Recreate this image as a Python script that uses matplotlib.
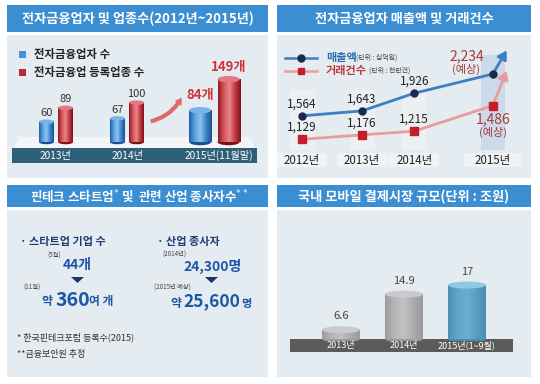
import numpy as np
import matplotlib
matplotlib.use("Agg")
import matplotlib.pyplot as plt
from matplotlib.patches import Rectangle, Ellipse, Polygon, FancyArrowPatch
from matplotlib.colors import LinearSegmentedColormap

plt.rcParams['font.family'] = ['Noto Sans CJK KR', 'DejaVu Sans']

# ---------------- data ----------------
p1_years = ["2013년", "2014년", "2015년(11월말)"]
p1_companies = [60, 67, 84]          # 전자금융업자 수
p1_registered = [89, 100, 149]       # 전자금융업 등록업종 수

p2_years = ["2012년", "2013년", "2014년", "2015년"]
p2_sales = [1564, 1643, 1926, 2234]          # 매출액 (십억원)
p2_transactions = [1129, 1176, 1215, 1486]   # 거래건수 (천만건)
p2_sales_labels = ["1,564", "1,643", "1,926", "2,234"]
p2_trans_labels = ["1,129", "1,176", "1,215", "1,486"]

p3_startups = ["44", "360"]
p3_workers = ["24,300", "25,600"]

p4_years = ["2013년", "2014년", "2015년(1~9월)"]
p4_market = [6.6, 14.9, 17]
p4_labels = ["6.6", "14.9", "17"]

# ---------------- figure helpers ----------------
W, H = 540, 384
fig = plt.figure(figsize=(W / 100, H / 100), dpi=100)
fig.patch.set_facecolor("white")

TITLE_BLUE = "#3b8ed2"
PANEL_BG = "#e4ebf1"


def fx(x):
    return x / W


def fy(y):
    return 1 - y / H


def frect(x0, y0, x1, y1, zorder=-2, **kw):
    r = Rectangle((fx(x0), fy(y1)), (x1 - x0) / W, (y1 - y0) / H,
                  transform=fig.transFigure, zorder=zorder, **kw)
    fig.patches.append(r)
    return r


def ftext(x, y, s, **kw):
    kw.setdefault("ha", "center")
    kw.setdefault("va", "center")
    kw.setdefault("zorder", 5)
    return fig.text(fx(x), fy(y), s, **kw)


def px_axes(x0, y0, x1, y1):
    ax = fig.add_axes([fx(x0), fy(y1), (x1 - x0) / W, (y1 - y0) / H])
    ax.set_axis_off()
    ax.patch.set_alpha(0)
    ax.set_zorder(1)
    return ax


def cylinder(ax, x, w, bottom, top, colors, top_color, ell_h, z=3):
    cmap = LinearSegmentedColormap.from_list("c", colors)
    grad = np.linspace(0, 1, 64)[None, :]
    ax.imshow(grad, extent=(x - w / 2, x + w / 2, bottom, top), cmap=cmap,
              aspect="auto", zorder=z, interpolation="bilinear")
    ax.add_patch(Ellipse((x, bottom), w, ell_h, facecolor=colors[-1],
                         edgecolor="none", zorder=z - 0.5))
    ax.add_patch(Ellipse((x, top), w, ell_h, facecolor=top_color,
                         edgecolor="none", zorder=z + 0.5))


# ---------------- panel frames ----------------
panels = [
    (7, 268, 5, 32, 178, "전자금융업자 및 업종수(2012년~2015년)"),
    (277, 531, 5, 32, 178, "전자금융업자 매출액 및 거래건수"),
    (7, 268, 185, 207, 377, None),
    (277, 531, 185, 207, 377, "국내 모바일 결제시장 규모(단위 : 조원)"),
]
for x0, x1, t0, t1, b1, title in panels:
    frect(x0, t0, x1, t1, facecolor=TITLE_BLUE, edgecolor="none")
    frect(x0, t1 + 3, x1, b1, facecolor=PANEL_BG, edgecolor="none")
    if title:
        ftext((x0 + x1) / 2, (t0 + t1) / 2 + 0.5, title, color="white",
              fontsize=9.5, fontweight="bold")

# panel 3 title with superscripts
ftext(139, 196.5, "핀테크 스타트업$^{*}$ 및  관련 산업 종사자수$^{**}$",
      color="white", fontsize=9, fontweight="bold")

# ================= Panel 1 =================
plat = Polygon([(fx(14), fy(148)), (fx(255), fy(148)), (fx(250), fy(137)), (fx(19), fy(137))],
               closed=True, transform=fig.transFigure, facecolor="#f4f5f6", edgecolor="none",
               zorder=-1)
fig.patches.append(plat)
frect(12, 148, 257, 163, facecolor="#2e6079", edgecolor="none", zorder=-1)

A1 = 0.477           # px per unit
base1 = 17.4         # value at baseline
ax1 = px_axes(12, 50, 257, 146)
gx1 = [0, 1, 2.23]
offs = [0.135, 0.135, 0.2]
wid = [0.21, 0.21, 0.31]
blue_cols = ["#1f5ea6", "#5aa2e0", "#8cc4f0", "#3d84cc", "#1d4f8f"]
red_cols = ["#8e1a22", "#d4545b", "#e8878b", "#c23a42", "#7c1219"]
for i in range(3):
    eh = (4.5 if i < 2 else 6.5) / A1
    cylinder(ax1, gx1[i] - offs[i], wid[i], base1, p1_companies[i], blue_cols, "#78b5e8", eh)
    cylinder(ax1, gx1[i] + offs[i], wid[i], base1, p1_registered[i], red_cols, "#e07a80", eh)
    if i < 2:
        ax1.annotate(str(p1_companies[i]), (gx1[i] - offs[i], p1_companies[i]),
                     xytext=(0, 2.5), textcoords="offset points", ha="center", va="bottom",
                     fontsize=8, color="#333333")
        ax1.annotate(str(p1_registered[i]), (gx1[i] + offs[i], p1_registered[i]),
                     xytext=(0, 2.5), textcoords="offset points", ha="center", va="bottom",
                     fontsize=8, color="#333333")
    else:
        ax1.annotate(f"{p1_companies[i]}개", (gx1[i] - offs[i], p1_companies[i]),
                     xytext=(0, 6), textcoords="offset points", ha="center", va="bottom",
                     fontsize=9.5, color="#d1333b", fontweight="bold")
        ax1.annotate(f"{p1_registered[i]}개", (gx1[i] + offs[i], p1_registered[i]),
                     xytext=(0, 4), textcoords="offset points", ha="center", va="bottom",
                     fontsize=9.5, color="#d1333b", fontweight="bold")
ax1.set_xlim(-0.62, 2.83)
ax1.set_ylim(base1 - 4 / A1, base1 + 92 / A1)
# curved arrow
arr = FancyArrowPatch((fx(148), fy(122)), (fx(183), fy(95)), transform=fig.transFigure,
                      connectionstyle="arc3,rad=0.25",
                      arrowstyle="simple,head_width=6,tail_width=3,head_length=5",
                      color="#de6a66", lw=0, zorder=5)
fig.patches.append(arr)
for i, lab in enumerate(p1_years):
    cx = [55, 128, 219][i]
    ftext(cx, 155.5, lab, color="white", fontsize=7.3)
# legend
frect(19, 51, 26, 58, facecolor="#4a90d9", edgecolor="none", zorder=2)
frect(19, 69, 26, 76, facecolor="#c1272d", edgecolor="none", zorder=2)
ftext(34, 54.5, "전자금융업자 수", ha="left", fontsize=8.2, color="#222222", fontweight="bold")
ftext(34, 72.5, "전자금융업 등록업종 수", ha="left", fontsize=8.2, color="#222222", fontweight="bold")

# ================= Panel 2 =================
ax2 = px_axes(283, 40, 523, 150)
ax2b = px_axes(283, 40, 523, 150)
gx2 = [0, 1, 1.87, 3.18]
xl2 = ((283 - 302) / 60, (523 - 302) / 60)
for i in range(3):
    frect(302 + gx2[i] * 60 - 12.5, 90, 302 + gx2[i] * 60 + 12.5, 150,
          facecolor="#edf0f2", edgecolor="none", zorder=-1)
frect(302 + gx2[3] * 60 - 12, 55, 302 + gx2[3] * 60 + 12, 150,
      facecolor="#cbd9e8", edgecolor="none", zorder=-1)
for i, lab in enumerate(p2_years):
    cx = 302 + gx2[i] * 60
    hw = 25 if i < 3 else 29
    frect(cx - hw, 153, cx + hw, 167, facecolor="#f1f2f3", edgecolor="none", zorder=-1)
    ftext(cx, 160, lab, fontsize=8.3, color="#222222")

ax2.plot(gx2, p2_sales, color="#3d7fc4", lw=2, zorder=3)
ax2.plot(gx2, p2_sales, "o", color="#1a2a4a", ms=5, zorder=4)
ax2b.plot(gx2, p2_transactions, color="#e99c9d", lw=2, zorder=3)
ax2b.plot(gx2, p2_transactions, "s", color="#c41e2a", ms=6, zorder=4)
ax2.annotate("", xy=(gx2[3], p2_sales[3]), xytext=(10, 17), textcoords="offset points",
             arrowprops=dict(arrowstyle="<|-,head_width=0.3,head_length=0.5", color="#3d7fc4", lw=2,
                             shrinkA=0, shrinkB=0), zorder=3)
ax2b.annotate("", xy=(gx2[3], p2_transactions[3]), xytext=(10, 25), textcoords="offset points",
              arrowprops=dict(arrowstyle="<|-,head_width=0.3,head_length=0.5", color="#e99c9d", lw=2,
                              shrinkA=0, shrinkB=0), zorder=3)
for i in range(3):
    ax2.annotate(p2_sales_labels[i], (gx2[i], p2_sales[i]), xytext=(0, 4),
                 textcoords="offset points", ha="center", va="bottom", fontsize=8.5, color="#222222")
    ax2b.annotate(p2_trans_labels[i], (gx2[i], p2_transactions[i]), xytext=(0, 4),
                  textcoords="offset points", ha="center", va="bottom", fontsize=8.5, color="#222222")
ax2.annotate(p2_sales_labels[3], (gx2[3], p2_sales[3]), xytext=(-19, 8),
             textcoords="offset points", ha="center", va="bottom", fontsize=10, color="#a93a3a")
ax2.annotate("(예상)", (gx2[3], p2_sales[3]), xytext=(-19, -1),
             textcoords="offset points", ha="center", va="bottom", fontsize=8, color="#a93a3a")
ax2b.annotate(p2_trans_labels[3], (gx2[3], p2_transactions[3]), xytext=(0, -5),
              textcoords="offset points", ha="center", va="top", fontsize=10, color="#a93a3a")
ax2b.annotate("(예상)", (gx2[3], p2_transactions[3]), xytext=(0, -15),
              textcoords="offset points", ha="center", va="top", fontsize=8, color="#a93a3a")
for a in (ax2, ax2b):
    a.set_xlim(*xl2)
ax2.set_ylim(1017, 2778.5)
ax2b.set_ylim(1016, 2180)
# legend
lg1 = plt.Line2D([fx(285), fx(317)], [fy(58), fy(58)], transform=fig.transFigure, color="#3d7fc4", lw=1.8, zorder=5)
lg1m = plt.Line2D([fx(301)], [fy(58)], transform=fig.transFigure, marker="o", color="#1a2a4a", ms=5, zorder=5)
lg2 = plt.Line2D([fx(285), fx(317)], [fy(71), fy(71)], transform=fig.transFigure, color="#e99c9d", lw=1.8, zorder=5)
lg2m = plt.Line2D([fx(301)], [fy(71)], transform=fig.transFigure, marker="s", color="#c41e2a", ms=5, zorder=5)
for l in (lg1, lg1m, lg2, lg2m):
    fig.lines.append(l)
ftext(326, 57.5, "매출액", ha="left", fontsize=8, color="#2e6db4", fontweight="bold")
ftext(356, 58, "(단위 : 십억원)", ha="left", fontsize=5, color="#444444")
ftext(326, 70.5, "거래건수", ha="left", fontsize=8, color="#c0393b", fontweight="bold")
ftext(369, 71, "(단위 : 천만건)", ha="left", fontsize=5, color="#444444")

# ================= Panel 3 =================
NAVY = "#1f3c74"
BLUE = "#1e56a6"
ftext(20, 242, "· 스타트업 기업 수", ha="left", fontsize=8, color=NAVY, fontweight="bold")
ftext(54, 256, "(5월)", fontsize=4.5, color="#444444")
ftext(77, 265, p3_startups[0] + "개", fontsize=10, color=BLUE, fontweight="bold")
tri1 = Polygon([(fx(71), fy(277)), (fx(84), fy(277)), (fx(77.5), fy(283))], closed=True,
               transform=fig.transFigure, facecolor="#1d3566", edgecolor="none", zorder=3)
fig.patches.append(tri1)
ftext(32, 288, "(11월)", fontsize=4.5, color="#444444")
ftext(47, 301.5, "약", fontsize=8.5, color=BLUE, fontweight="bold")
ftext(73, 300, p3_startups[1], fontsize=14, color=BLUE, fontweight="bold")
ftext(101, 301.5, "여 개", fontsize=8.5, color=BLUE, fontweight="bold")

ftext(157, 242, "· 산업 종사자", ha="left", fontsize=8, color=NAVY, fontweight="bold")
ftext(174, 255, "(2014년)", fontsize=4.5, color="#444444")
ftext(213, 266, p3_workers[0] + "명", fontsize=10, color=BLUE, fontweight="bold")
tri2 = Polygon([(fx(205), fy(277)), (fx(218), fy(277)), (fx(211.5), fy(283))], closed=True,
               transform=fig.transFigure, facecolor="#1d3566", edgecolor="none", zorder=3)
fig.patches.append(tri2)
ftext(172, 287.5, "(2015년 예상)", fontsize=4.5, color="#444444")
ftext(176, 303, "약", fontsize=8.5, color=BLUE, fontweight="bold")
ftext(212, 301.5, p3_workers[1], fontsize=12.5, color=BLUE, fontweight="bold")
ftext(246, 303, "명", fontsize=8, color=BLUE, fontweight="bold")

ftext(17, 337, "* 한국핀테크포럼 등록수(2015)", ha="left", fontsize=6.5, color="#333333")
ftext(17, 354, "**금융보안원 추정", ha="left", fontsize=6.5, color="#333333")

# ================= Panel 4 =================
A4 = 4.3
base4 = 4.46
frect(290, 339, 513, 352, facecolor="#5b5b5b", edgecolor="none", zorder=-1)
ax4 = px_axes(290, 230, 513, 341)
gray_cols = ["#9c9c9e", "#b6b6b8", "#c2c2c4", "#acacae", "#9a9a9c"]
teal_cols = ["#4c90b4", "#62a7c8", "#6aafcf", "#5a9fc2", "#4a8db1"]
for i, v in enumerate(p4_market):
    cols = teal_cols if i == 2 else gray_cols
    topc = "#8ccbe6" if i == 2 else "#cacacc"
    cylinder(ax4, i, 0.6, base4, v, cols, topc, 7 / A4)
    ax4.annotate(p4_labels[i], (i, v), xytext=(0, 6), textcoords="offset points",
                 ha="center", va="bottom", fontsize=8, color="#444444")
ax4.set_xlim(-0.81, 2.73)
ax4.set_ylim(base4 - 2 / A4, base4 + 109 / A4)
for i, lab in enumerate(p4_years):
    ftext(341 + 63 * i, 345.5, lab, fontsize=6.5, color="white")

fig.savefig("out.png", dpi=100)
